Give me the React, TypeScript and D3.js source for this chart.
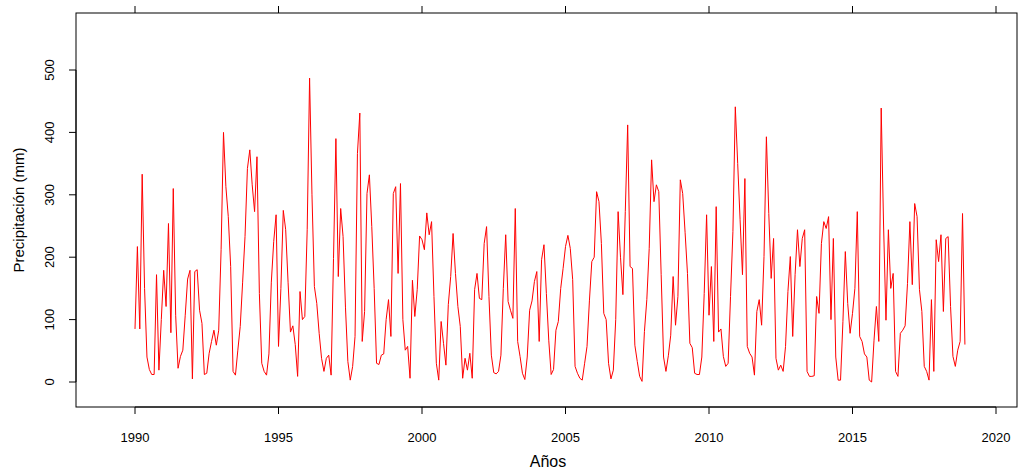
import React from 'react';
import * as d3 from 'd3';

const startYear = 1990;

// Monthly precipitation (mm), Jan 1990 – Dec 2018, one row per year
const precipitation: number[] = [
  85, 217, 85, 333, 150, 40, 20, 12, 12, 172, 19, 100,      // 1990
  179, 121, 254, 79, 310, 107, 22, 41, 51, 107, 165, 179,   // 1991
  5, 177, 180, 115, 94, 12, 14, 46, 65, 83, 59, 83,         // 1992
  212, 400, 313, 265, 185, 17, 11, 51, 89, 160, 233, 342,   // 1993
  372, 316, 273, 361, 142, 30, 17, 11, 45, 160, 225, 268,   // 1994
  57, 150, 275, 244, 160, 80, 90, 60, 9, 145, 100, 105,     // 1995
  244, 487, 300, 153, 126, 78, 38, 17, 38, 43, 11, 198,     // 1996
  390, 169, 278, 233, 120, 33, 3, 25, 73, 366, 431, 65,     // 1997
  113, 302, 332, 249, 150, 30, 28, 43, 45, 100, 132, 73,    // 1998
  302, 313, 174, 318, 100, 51, 57, 6, 163, 105, 148, 234,   // 1999
  228, 212, 271, 236, 257, 137, 30, 3, 97, 62, 27, 124,     // 2000
  169, 238, 174, 121, 89, 6, 38, 19, 46, 6, 148, 174,       // 2001
  134, 132, 222, 249, 137, 43, 15, 13, 17, 43, 150, 236,    // 2002
  129, 115, 102, 278, 65, 41, 14, 4, 40, 115, 130, 161,     // 2003
  177, 65, 196, 220, 142, 67, 12, 20, 83, 97, 150, 182,     // 2004
  217, 235, 214, 164, 25, 14, 6, 3, 30, 57, 130, 193,       // 2005
  200, 305, 289, 222, 110, 100, 30, 5, 19, 100, 273, 200,   // 2006
  140, 273, 412, 185, 182, 59, 33, 9, 1, 81, 132, 214,      // 2007
  356, 289, 316, 305, 172, 40, 17, 42, 75, 169, 91, 137,    // 2008
  324, 302, 240, 174, 62, 55, 14, 12, 12, 40, 142, 268,     // 2009
  107, 185, 65, 281, 80, 85, 41, 25, 30, 137, 241, 441,     // 2010
  350, 260, 172, 326, 57, 46, 40, 11, 113, 132, 91, 201,    // 2011
  393, 270, 166, 230, 38, 19, 27, 17, 57, 145, 201, 73,     // 2012
  172, 244, 185, 230, 244, 17, 9, 9, 10, 137, 110, 222,     // 2013
  257, 246, 265, 100, 230, 40, 3, 3, 97, 209, 126, 78,      // 2014
  110, 150, 273, 73, 65, 45, 40, 3, 0, 67, 121, 65,         // 2015
  439, 250, 99, 244, 150, 174, 17, 9, 78, 83, 90, 158,      // 2016
  257, 156, 286, 265, 148, 113, 25, 17, 3, 132, 17, 228,    // 2017
  193, 236, 113, 230, 233, 121, 41, 25, 51, 65, 270, 60,    // 2018
];

const xTicks = [1990, 1995, 2000, 2005, 2010, 2015, 2020];
const yTicks = [0, 100, 200, 300, 400, 500];
const xTitle = 'Años';
const yTitle = 'Precipitación (mm)';

const W = 1019;
const H = 472;
const FONT = '"Liberation Sans", Arial, Helvetica, sans-serif';

export default function App() {
  const box = { l: 76, r: 1017, t: 13, b: 407 };
  const x = d3.scaleLinear().domain([1990, 2020]).range([135, 996]);
  const y = d3.scaleLinear().domain([0, 500]).range([382, 70]);

  const pts: [number, number][] = precipitation.map((v, i) => [startYear + i / 12, v]);
  const line = d3
    .line<[number, number]>()
    .x((d) => x(d[0]))
    .y((d) => y(d[1]));

  const tickLen = 7;

  return (
    <svg
      width={W}
      height={H}
      style={{ position: 'absolute', left: 0, top: 0, background: '#fff' }}
      fontFamily={FONT}
    >
      <rect x={0} y={0} width={W} height={H} fill="#fff" />
      {/* frame */}
      <rect
        x={box.l}
        y={box.t}
        width={box.r - box.l}
        height={box.b - box.t}
        fill="none"
        stroke="#000"
        strokeWidth={1}
      />
      {/* data line */}
      <path d={line(pts) || ''} fill="none" stroke="#ff0000" strokeWidth={1} />

      {/* bottom axis */}
      <line x1={x(xTicks[0])} x2={x(xTicks[xTicks.length - 1])} y1={box.b} y2={box.b} stroke="#000" />
      {xTicks.map((t) => (
        <g key={'xb' + t}>
          <line x1={x(t)} x2={x(t)} y1={box.b} y2={box.b + tickLen} stroke="#000" />
          <text x={x(t)} y={442} fontSize={13} textAnchor="middle" fill="#000">
            {t}
          </text>
        </g>
      ))}
      {/* top axis ticks */}
      {xTicks.map((t) => (
        <line key={'xt' + t} x1={x(t)} x2={x(t)} y1={box.t} y2={box.t - tickLen} stroke="#000" />
      ))}

      {/* left axis */}
      <line x1={box.l} x2={box.l} y1={y(yTicks[0])} y2={y(yTicks[yTicks.length - 1])} stroke="#000" />
      {yTicks.map((t) => (
        <g key={'y' + t}>
          <line x1={box.l} x2={box.l - tickLen} y1={y(t)} y2={y(t)} stroke="#000" />
          <text
            x={0}
            y={0}
            fontSize={13}
            textAnchor="middle"
            fill="#000"
            transform={`translate(54,${y(t)}) rotate(-90)`}
          >
            {t}
          </text>
        </g>
      ))}

      {/* axis titles */}
      <text x={548} y={467} fontSize={16} textAnchor="middle" fill="#000">
        {xTitle}
      </text>
      <text
        x={0}
        y={0}
        fontSize={15}
        textAnchor="middle"
        fill="#000"
        transform={`translate(24,${(box.t + box.b) / 2}) rotate(-90)`}
      >
        {yTitle}
      </text>
    </svg>
  );
}
